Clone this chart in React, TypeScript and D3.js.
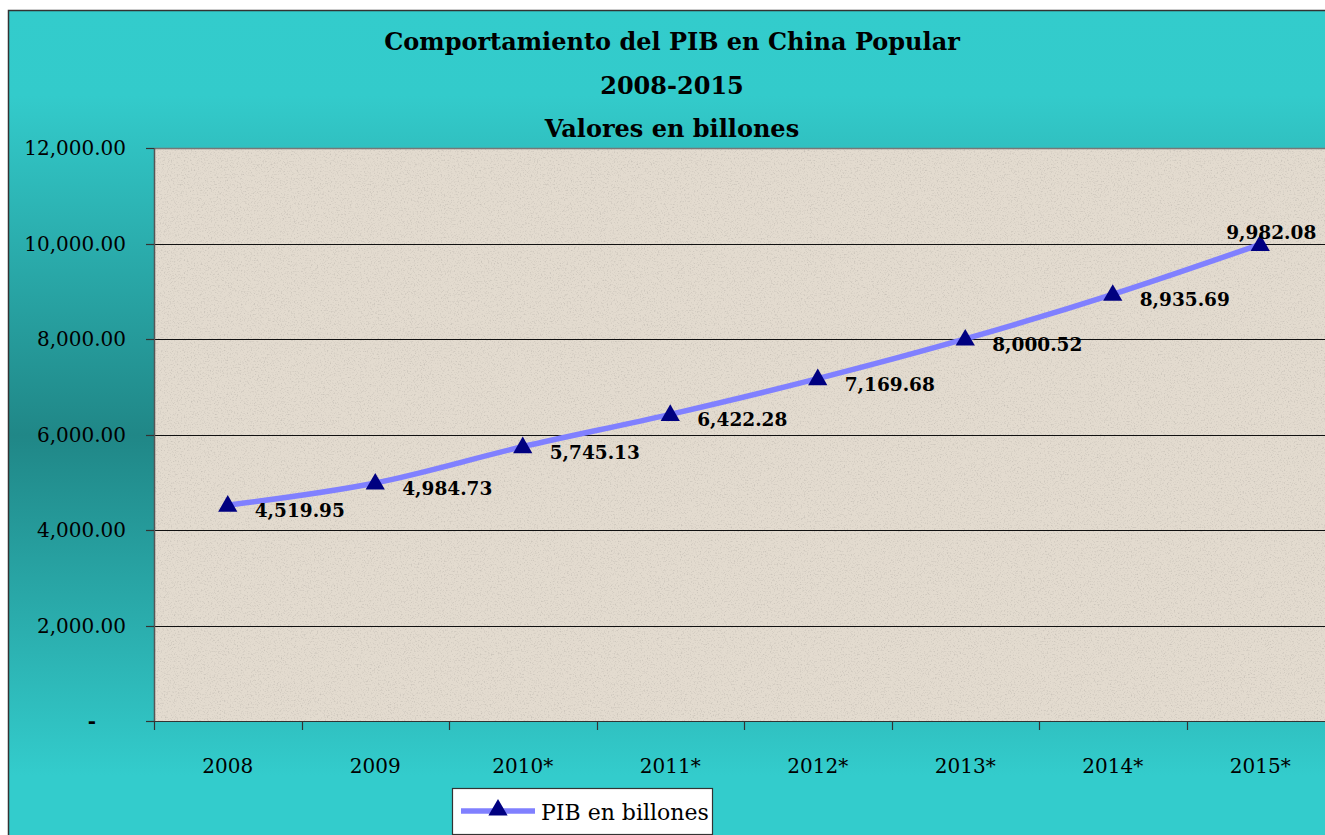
import React from 'react';
import * as d3 from 'd3';

const titleLines = ['Comportamiento del PIB en China Popular', '2008-2015', 'Valores en billones'];
const categories = ['2008', '2009', '2010*', '2011*', '2012*', '2013*', '2014*', '2015*'];
const values = [4519.95, 4984.73, 5745.13, 6422.28, 7169.68, 8000.52, 8935.69, 9982.08];
const yTicks = [0, 2000, 4000, 6000, 8000, 10000, 12000];
const seriesName = 'PIB en billones';

const W = 1325;
const H = 835;
const plot = { left: 154, top: 148, right: 1334, bottom: 721 };

const fmt = d3.format(',.2f');
const tickLabel = (v: number) => (v === 0 ? '-' : fmt(v));

export default function App() {
  const x = d3.scaleBand<string>().domain(categories).range([plot.left, plot.right]).padding(0);
  const y = d3.scaleLinear().domain([0, 12000]).range([plot.bottom, plot.top]);
  const cx = (c: string) => (x(c) as number) + x.bandwidth() / 2;
  const pts: [number, number][] = values.map((v, i) => [cx(categories[i]), y(v)]);
  const line = d3.line().curve(d3.curveCatmullRom.alpha(0.5))(pts) as string;
  const tri = d3.symbol().type(d3.symbolTriangle).size(160)() as string;
  const serif = 'DejaVu Serif, serif';
  const boundaries = categories.map((c) => x(c) as number).concat([plot.right]);

  return (
    <svg width={W} height={H} style={{ position: 'fixed', left: 0, top: 0 }}>
      <defs>
        <linearGradient id="bg" x1="0" y1="0" x2="0" y2="1">
          <stop offset="0" stopColor="#33cccc" />
          <stop offset="0.1" stopColor="#33cbcb" />
          <stop offset="0.5" stopColor="#208787" />
          <stop offset="0.9" stopColor="#33cccc" />
          <stop offset="1" stopColor="#33cccc" />
        </linearGradient>
        <filter id="noise" x="0" y="0" width="100%" height="100%">
          <feTurbulence type="fractalNoise" baseFrequency="0.7" numOctaves="2" seed="7" result="t" />
          <feColorMatrix
            in="t"
            type="matrix"
            values="0 0 0 0 0.45  0 0 0 0 0.42  0 0 0 0 0.38  3 0 0 0 -1.55"
          />
        </filter>
        <clipPath id="plotClip">
          <rect x={plot.left} y={plot.top} width={plot.right - plot.left} height={plot.bottom - plot.top} />
        </clipPath>
      </defs>
      <rect x={0} y={0} width={W} height={H} fill="#ffffff" />
      <rect x={8.5} y={10.5} width={1340} height={850} fill="url(#bg)" stroke="#333" strokeWidth={1.5} />

      {/* title */}
      <g fontFamily={serif} fontWeight="bold" fontSize={24} textAnchor="middle" fill="#000">
        <text x={672} y={50}>{titleLines[0]}</text>
        <text x={672} y={94}>{titleLines[1]}</text>
        <text x={672} y={137}>{titleLines[2]}</text>
      </g>

      {/* plot area */}
      <rect x={plot.left} y={plot.top} width={plot.right - plot.left} height={plot.bottom - plot.top} fill="#e3dbcf" />
      <rect
        x={plot.left}
        y={plot.top}
        width={plot.right - plot.left}
        height={plot.bottom - plot.top}
        filter="url(#noise)"
        opacity={0.5}
      />
      <line x1={plot.left} x2={plot.right} y1={plot.top + 0.5} y2={plot.top + 0.5} stroke="#777" strokeWidth={1.5} />

      {/* gridlines */}
      {yTicks.filter((t) => t > 0 && t < 12000).map((t) => (
        <line key={t} x1={plot.left} x2={plot.right} y1={Math.round(y(t)) + 0.5} y2={Math.round(y(t)) + 0.5} stroke="#111" strokeWidth={1} />
      ))}

      {/* axes */}
      <line x1={plot.left + 0.5} x2={plot.left + 0.5} y1={plot.top} y2={plot.bottom} stroke="#555" strokeWidth={1.5} />
      <line x1={plot.left} x2={plot.right} y1={plot.bottom + 0.5} y2={plot.bottom + 0.5} stroke="#333" strokeWidth={1.2} />
      {yTicks.map((t) => (
        <g key={t}>
          <line x1={146} x2={plot.left} y1={Math.round(y(t)) + 0.5} y2={Math.round(y(t)) + 0.5} stroke="#333" strokeWidth={1.2} />
          <text
            x={t === 0 ? 92 : 126}
            y={y(t) + 7}
            textAnchor={t === 0 ? 'middle' : 'end'}
            fontFamily={serif}
            fontSize={20}
            fontWeight={t === 0 ? 'bold' : 'normal'}
            fill="#000"
          >
            {tickLabel(t)}
          </text>
        </g>
      ))}
      {boundaries.map((b, i) => (
        <line key={i} x1={Math.round(b) + 0.5} x2={Math.round(b) + 0.5} y1={plot.bottom} y2={plot.bottom + 9} stroke="#333" strokeWidth={1.2} />
      ))}
      {categories.map((c) => (
        <text key={c} x={cx(c)} y={773} textAnchor="middle" fontFamily={serif} fontSize={20} fill="#000">
          {c}
        </text>
      ))}

      {/* series */}
      <g clipPath="url(#plotClip)">
        <path d={line} fill="none" stroke="#8080ff" strokeWidth={5.5} strokeLinejoin="round" />
      </g>
      {pts.map(([px, py], i) => (
        <path key={i} d={tri} transform={`translate(${px},${py + 1})`} fill="#000080" />
      ))}
      {pts.map(([px, py], i) => {
        const last = i === values.length - 1;
        return (
          <text
            key={i}
            x={last ? px + 11 : px + 27}
            y={last ? py - 5 : py + 12}
            textAnchor={last ? 'middle' : 'start'}
            fontFamily={serif}
            fontWeight="bold"
            fontSize={18.5}
            fill="#000"
          >
            {fmt(values[i])}
          </text>
        );
      })}

      {/* legend */}
      <rect x={452.5} y={788.5} width={260} height={46} fill="#ffffff" stroke="#333" strokeWidth={1.2} />
      <line x1={461} x2={535} y1={811} y2={811} stroke="#8080ff" strokeWidth={5.5} />
      <path d={tri} transform="translate(498,810)" fill="#000080" />
      <text x={541} y={820} fontFamily={serif} fontSize={22} fill="#000">
        {seriesName}
      </text>
    </svg>
  );
}
